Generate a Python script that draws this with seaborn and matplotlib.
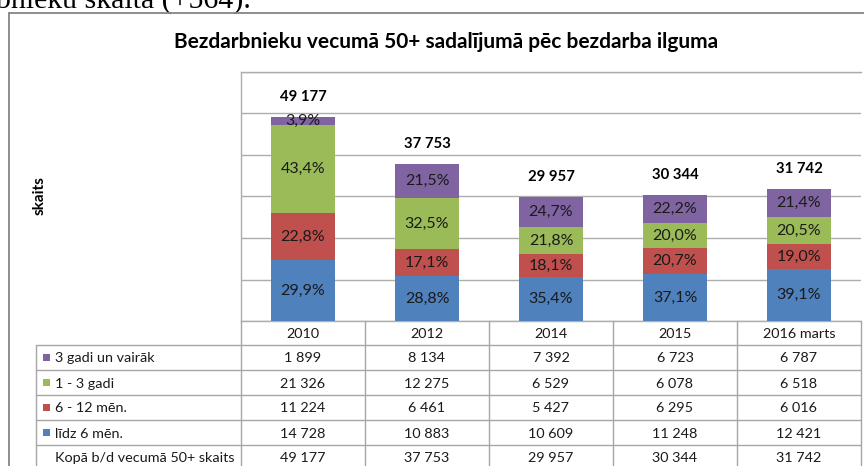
import numpy as np
import pandas as pd
import matplotlib
matplotlib.use("Agg")
import matplotlib.pyplot as plt
import seaborn as sns

# ---------------- data ----------------
categories = ["2010", "2012", "2014", "2015", "2016 marts"]
series_names = ["līdz 6 mēn.", "6 - 12 mēn.", "1 - 3 gadi", "3 gadi un vairāk"]
lidz_6_men = [14728, 10883, 10609, 11248, 12421]
men_6_12 = [11224, 6461, 5427, 6295, 6016]
gadi_1_3 = [21326, 12275, 6529, 6078, 6518]
gadi_3_plus = [1899, 8134, 7392, 6723, 6787]
totals = [49177, 37753, 29957, 30344, 31742]
total_row_label = "Kopā b/d vecumā 50+ skaits"
title = "Bezdarbnieku vecumā 50+ sadalījumā pēc bezdarba ilguma"
y_label = "skaits"
page_text = "bnieku skaita (+564)."
colors = ["#4F81BD", "#C0504D", "#9BBB59", "#8064A2"]

sns.set_theme(style="white")
plt.rcParams["font.family"] = ["Lato", "DejaVu Sans"]

W, H = 864, 466
fig = plt.figure(figsize=(W / 100, H / 100), dpi=100)


def px(x0, y0, x1, y1):
    return [x0 / W, 1 - y1 / H, (x1 - x0) / W, (y1 - y0) / H]


def fmt(v):
    return f"{v:,}".replace(",", " ")


PLOT_L, PLOT_R, PLOT_T, PLOT_B = 241, 861, 72, 321
ax = fig.add_axes(px(PLOT_L, PLOT_T, PLOT_R, PLOT_B))

series = [lidz_6_men, men_6_12, gadi_1_3, gadi_3_plus]
arr = np.array(series, dtype=float)
cum = np.cumsum(arr, axis=0)

for i in range(len(series) - 1, -1, -1):
    df = pd.DataFrame({"kat": categories, "v": cum[i]})
    sns.barplot(data=df, x="kat", y="v", order=categories, color=colors[i],
                saturation=1, width=0.52, linewidth=0, errorbar=None, ax=ax,
                zorder=3)

for i in range(len(series)):
    for j, cat in enumerate(categories):
        pct = arr[i, j] / totals[j] * 100
        ax.text(j, cum[i, j] - arr[i, j] / 2, f"{pct:.1f}%".replace(".", ","),
                ha="center", va="center", fontsize=11.5, color="#1a1a1a",
                zorder=5)

for j, t in enumerate(totals):
    ax.annotate(fmt(t), xy=(j, cum[-1, j]), xytext=(0, 20),
                textcoords="offset pixels", ha="center", va="center",
                fontsize=10.7, fontweight="bold", color="black")

ax.set_xlim(-0.5, len(categories) - 0.5)
ax.set_ylim(0, 60000)
ax.set_yticks(range(0, 60001, 10000))
ax.yaxis.grid(True, color="#ADADAD", linewidth=1)
ax.set_axisbelow(True)
ax.set_yticklabels([])
ax.set_xticks([])
ax.set_xlabel("")
ax.set_ylabel("")
ax.tick_params(left=False, bottom=False)
for s in ["left", "top", "bottom"]:
    ax.spines[s].set_color("#ADADAD")
    ax.spines[s].set_linewidth(1)
ax.spines["right"].set_visible(False)

# --------------- overlay: frame, titles, data table ---------------
ov = fig.add_axes([0, 0, 1, 1], zorder=10)
ov.set_xlim(0, W)
ov.set_ylim(H, 0)
ov.axis("off")
ov.patch.set_alpha(0)

frame_c = "#858585"
ov.plot([8.5, 8.5], [13, H + 5], color=frame_c, lw=1.3)
ov.plot([8.5, W + 5], [13, 13], color=frame_c, lw=1.3)

fig.text(-4 / W, 1 - 7.5 / H, page_text, family=["Liberation Serif"],
         fontsize=21.5, ha="left", va="baseline", color="black")

ov.text(446, 42, title, ha="center", va="center", fontsize=15,
        fontweight="bold", color="black")
ov.text(40, 196, y_label, ha="center", va="center", rotation=90,
        fontsize=11, fontweight="bold", color="black")

line_c = "#A6A6A6"
col_w = (PLOT_R - PLOT_L) / len(categories)
col_x = [PLOT_L + k * col_w for k in range(len(categories) + 1)]
hdr_top, hdr_bot = PLOT_B, 345
row_h = 25
n_rows = len(series) + 1
row_y = [hdr_bot + k * row_h for k in range(n_rows + 1)]
TAB_L = 36
FS_TAB = 10.4

for x in col_x:
    ov.plot([x, x], [hdr_top, row_y[-1]], color=line_c, lw=1)
ov.plot([TAB_L, TAB_L], [hdr_bot, row_y[-1]], color=line_c, lw=1)
for y in row_y:
    ov.plot([TAB_L, PLOT_R], [y, y], color=line_c, lw=1)

for j, cat in enumerate(categories):
    ov.text((col_x[j] + col_x[j + 1]) / 2, (hdr_top + hdr_bot) / 2 + 1, cat,
            ha="center", va="center", fontsize=FS_TAB, color="#1a1a1a")

rows = [(series_names[3], colors[3], gadi_3_plus),
        (series_names[2], colors[2], gadi_1_3),
        (series_names[1], colors[1], men_6_12),
        (series_names[0], colors[0], lidz_6_men),
        (total_row_label, None, totals)]
for r, (name, c, vals) in enumerate(rows):
    yc = (row_y[r] + row_y[r + 1]) / 2
    if c is not None:
        ov.add_patch(plt.Rectangle((42.5, yc - 3.5), 7, 7, color=c, lw=0))
    ov.text(55, yc + 1, name, ha="left", va="center", fontsize=FS_TAB,
            color="#1a1a1a")
    for j, v in enumerate(vals):
        ov.text((col_x[j] + col_x[j + 1]) / 2, yc + 1, fmt(v), ha="center",
                va="center", fontsize=FS_TAB, color="#1a1a1a")

fig.savefig("out.png", dpi=100, facecolor="white")
